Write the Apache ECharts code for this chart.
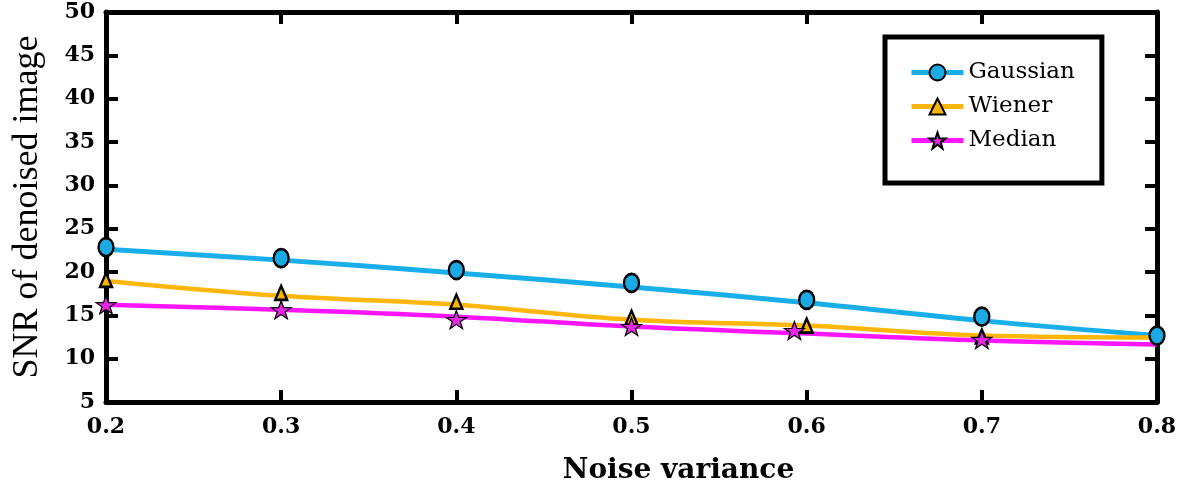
<!DOCTYPE html>
<html>
<head>
<meta charset="utf-8">
<title>SNR of denoised image</title>
<script src="https://cdn.jsdelivr.net/npm/echarts@6/dist/echarts.min.js"></script>
<style>
  html, body { margin: 0; padding: 0; background: #fff; }
  #chart { width: 1189px; height: 490px; }
</style>
</head>
<body>
<div id="chart"></div>
<script>
// noise variance values
var variance = [0.2, 0.3, 0.4, 0.5, 0.6, 0.7, 0.8];

// fitted curves
var gaussianLine = [22.63, 21.37, 19.89, 18.28, 16.45, 14.39, 12.67];
var wienerLine = [18.97, 17.25, 16.22, 14.5, 13.82, 12.67, 12.44];
var medianLine = [16.22, 15.65, 14.85, 13.7, 12.9, 12.1, 11.64];

// measured points (markers)
var gaussianX = [0.2, 0.3, 0.4, 0.5, 0.6, 0.7, 0.8];
var gaussianPts = [22.86, 21.6, 20.23, 18.74, 16.79, 14.85, 12.67];
var wienerX = [0.2, 0.3, 0.4, 0.5, 0.6, 0.7];
var wienerPts = [19.08, 17.6, 16.57, 14.73, 13.82, 12.56];
var medianX = [0.2, 0.3, 0.4, 0.5, 0.593, 0.7];
var medianPts = [16.22, 15.65, 14.5, 13.7, 13.24, 12.21];

var seriesNames = ["Gaussian", "Wiener", "Median"];

function pairs(xs, ys) {
  return xs.map(function (x, i) { return [x, ys[i]]; });
}

var chart = echarts.init(document.getElementById("chart"));

var star = "path://M0,-10 L2.4,-3.1 9.5,-3.1 3.8,1.2 5.9,8.1 0,3.8 -5.9,8.1 -3.8,1.2 -9.5,-3.1 -2.4,-3.1 Z";
var axisLine = { show: true, lineStyle: { color: "#000", width: 5 } };
var axisTick = { show: true, inside: true, length: 12, lineStyle: { color: "#000", width: 4 } };

var lineSeries = function (name, ys, color, width, symbol, fill, border) {
  return {
    name: name,
    type: "line",
    data: pairs(variance, ys),
    smooth: 0.4,
    showSymbol: false,
    symbol: symbol,
    lineStyle: { color: color, width: width },
    itemStyle: { color: fill, borderColor: "#000", borderWidth: border },
    clip: false,
    z: 2
  };
};

var pointSeries = function (name, xs, ys, symbol, size, fill, border) {
  return {
    name: name,
    type: "scatter",
    data: pairs(xs, ys),
    symbol: symbol,
    symbolSize: size,
    itemStyle: { color: fill, borderColor: "#000", borderWidth: border, opacity: 1 },
    clip: false,
    z: 4
  };
};

var option = {
  backgroundColor: "#fff",
  animation: false,
  grid: { left: 106, right: 32, top: 12, bottom: 84 },
  legend: {
    orient: "vertical",
    left: 885,
    top: 37,
    data: seriesNames,
    itemWidth: 52,
    itemHeight: 20,
    itemGap: 11,
    padding: [24, 27, 31, 24],
    borderColor: "#000",
    borderWidth: 5,
    lineStyle: { width: 5 },
    textStyle: { fontFamily: "DejaVu Serif", fontSize: 23, color: "#000", lineHeight: 20 }
  },
  xAxis: [
    {
      type: "value",
      min: 0.2,
      max: 0.8,
      interval: 0.1,
      name: "Noise variance",
      nameLocation: "middle",
      nameGap: 55,
      nameTextStyle: {
        fontFamily: "DejaVu Serif",
        fontWeight: "bold",
        fontSize: 28,
        color: "#000",
        padding: [0, 0, 0, 94]
      },
      axisLine: axisLine,
      axisTick: axisTick,
      splitLine: { show: false },
      axisLabel: {
        margin: 14,
        fontFamily: "DejaVu Serif",
        fontWeight: "bold",
        fontSize: 22,
        color: "#000",
        formatter: function (v) { return v.toFixed(1); }
      }
    },
    {
      type: "value",
      position: "top",
      min: 0.2,
      max: 0.8,
      interval: 0.1,
      axisLine: axisLine,
      axisTick: axisTick,
      axisLabel: { show: false },
      splitLine: { show: false }
    }
  ],
  yAxis: [
    {
      type: "value",
      min: 5,
      max: 50,
      interval: 5,
      name: "SNR of denoised image",
      nameLocation: "middle",
      nameGap: 60,
      nameTextStyle: {
        fontFamily: "Liberation Serif",
        fontSize: 36,
        color: "#000"
      },
      axisLine: axisLine,
      axisTick: axisTick,
      splitLine: { show: false },
      axisLabel: {
        margin: 11,
        fontFamily: "DejaVu Serif",
        fontWeight: "bold",
        fontSize: 22,
        color: "#000"
      }
    },
    {
      type: "value",
      position: "right",
      min: 5,
      max: 50,
      interval: 5,
      axisLine: axisLine,
      axisTick: axisTick,
      axisLabel: { show: false },
      splitLine: { show: false }
    }
  ],
  series: [
    lineSeries("Gaussian", gaussianLine, "#18AEEA", 5, "circle", "#1BAAE4", 2.5),
    lineSeries("Wiener", wienerLine, "#FFB60A", 4.5, "triangle", "#F7B500", 2.5),
    lineSeries("Median", medianLine, "#FF14FF", 4.5, star, "#E628E6", 1.2),
    pointSeries("Gaussian", gaussianX, gaussianPts, "circle", [15, 18], "#1BAAE4", 2.5),
    pointSeries("Wiener", wienerX, wienerPts, "triangle", [12, 14], "#F7B500", 2.5),
    pointSeries("Median", medianX, medianPts, star, [20, 18], "#E628E6", 1.2)
  ]
};

chart.setOption(option);
</script>
</body>
</html>
